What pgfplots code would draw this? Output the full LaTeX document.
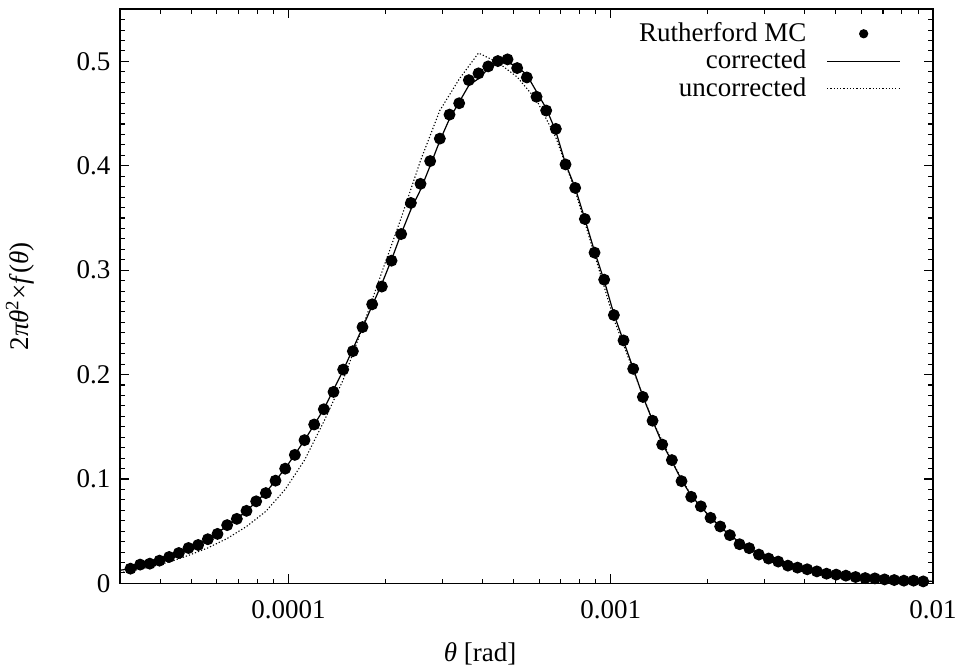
\documentclass[border=0pt]{standalone}
\usepackage{fontspec}
\setmainfont{Liberation Serif}
\usepackage{pgfplots}
\pgfplotsset{compat=1.18}
\pgfplotsset{
  dotleg/.style={legend image code/.code={\draw[##1, mark size=1.5pt] plot coordinates {(13.5pt,0pt)};}},
  lineleg/.style={legend image code/.code={\draw[##1] (0pt,0pt) -- (27pt,0pt);}},
}
\begin{document}
\begin{tikzpicture}
\begin{axis}[name=ax, scale only axis, width=301pt, height=212.6pt,
  xmode=log, xmin=3e-5, xmax=1e-2, ymin=0, ymax=0.55,
  xtick={1e-4,1e-3,1e-2}, xticklabels={0.0001,0.001,0.01},
  minor xtick={4e-5,5e-5,6e-5,7e-5,8e-5,9e-5,2e-4,3e-4,4e-4,5e-4,6e-4,7e-4,8e-4,9e-4,2e-3,3e-3,4e-3,5e-3,6e-3,7e-3,8e-3,9e-3},
  ytick={0,0.1,0.2,0.3,0.4,0.5}, yticklabels={0,0.1,0.2,0.3,0.4,0.5},
  minor ytick={0.01,0.02,0.03,0.04,0.05,0.06,0.07,0.08,0.09,0.11,0.12,0.13,0.14,0.15,0.16,0.17,0.18,0.19,0.21,0.22,0.23,0.24,0.25,0.26,0.27,0.28,0.29,0.31,0.32,0.33,0.34,0.35,0.36,0.37,0.38,0.39,0.41,0.42,0.43,0.44,0.45,0.46,0.47,0.48,0.49,0.51,0.52,0.53,0.54},
  tick align=inside, major tick length=3.3pt, minor tick length=1.8pt,
  tick style={black, line width=0.4pt},
  axis line style={line width=0.65pt},
  /pgf/number format/assume math mode=true,
  xticklabel style={anchor=center, yshift=-9.6pt},
  xlabel={\textit{θ} [rad]},
  ylabel={2\textit{πθ}\textsuperscript{2}×\textit{f}(\textit{θ})},
  xlabel style={at={(axis description cs:0.443,-0.123)}, anchor=center},
  ylabel style={at={(axis description cs:-0.123,0.5)}, anchor=center},
  legend cell align=right, legend plot pos=right,
  legend style={draw=none, fill=none, at={(axis description cs:0.9711,0.997)}, anchor=north east, row sep=-2.25pt, column sep=5.5pt},
]
\addplot[only marks, mark=*, mark size=2pt, black, dotleg] table {
x y
3.2359e-5 0.0141
3.4674e-5 0.0180
3.7154e-5 0.0189
3.9811e-5 0.0218
4.2658e-5 0.0253
4.5709e-5 0.0291
4.8978e-5 0.0339
5.2481e-5 0.0368
5.6234e-5 0.0423
6.0256e-5 0.0474
6.4565e-5 0.0558
6.9183e-5 0.0618
7.4131e-5 0.0695
7.9433e-5 0.0786
8.5114e-5 0.0865
9.1201e-5 0.0984
9.7724e-5 0.1099
1.0471e-4 0.1231
1.1220e-4 0.1372
1.2023e-4 0.1522
1.2883e-4 0.1668
1.3804e-4 0.1834
1.4791e-4 0.2048
1.5849e-4 0.2224
1.6982e-4 0.2455
1.8197e-4 0.2673
1.9498e-4 0.2843
2.0893e-4 0.3091
2.2387e-4 0.3346
2.3988e-4 0.3644
2.5704e-4 0.3827
2.7542e-4 0.4045
2.9512e-4 0.4260
3.1623e-4 0.4490
3.3884e-4 0.4599
3.6308e-4 0.4820
3.8905e-4 0.4885
4.1687e-4 0.4952
4.4668e-4 0.5003
4.7863e-4 0.5019
5.1286e-4 0.4936
5.4954e-4 0.4846
5.8884e-4 0.4661
6.3096e-4 0.4529
6.7608e-4 0.4353
7.2444e-4 0.4013
7.7625e-4 0.3788
8.3176e-4 0.3490
8.9125e-4 0.3168
9.5499e-4 0.2909
1.0233e-3 0.2570
1.0965e-3 0.2327
1.1749e-3 0.2055
1.2589e-3 0.1786
1.3490e-3 0.1558
1.4454e-3 0.1330
1.5488e-3 0.1181
1.6596e-3 0.0979
1.7783e-3 0.0829
1.9055e-3 0.0738
2.0417e-3 0.0628
2.1878e-3 0.0545
2.3442e-3 0.0462
2.5119e-3 0.0375
2.6915e-3 0.0337
2.8840e-3 0.0276
3.0903e-3 0.0238
3.3113e-3 0.0209
3.5481e-3 0.0170
3.8019e-3 0.0151
4.0738e-3 0.0135
4.3652e-3 0.0115
4.6774e-3 0.0093
5.0119e-3 0.0084
5.3703e-3 0.0074
5.7544e-3 0.0061
6.1660e-3 0.0051
6.6069e-3 0.0048
7.0795e-3 0.0038
7.5858e-3 0.0032
8.1283e-3 0.0026
8.7096e-3 0.0026
9.3325e-3 0.0019
};
\addlegendentry{Rutherford MC}
\addplot[black, line width=0.45pt, no marks, lineleg] table {
x y
3.0e-5 0.0125
3.2359e-5 0.0143
3.7154e-5 0.0188
4.2658e-5 0.0250
4.8978e-5 0.0330
5.6234e-5 0.0422
6.4565e-5 0.0550
7.4131e-5 0.0692
8.5114e-5 0.0870
9.7724e-5 0.1100
1.1220e-4 0.1370
1.2883e-4 0.1670
1.4791e-4 0.2040
1.6982e-4 0.2450
1.9498e-4 0.2870
2.0893e-4 0.3100
2.2387e-4 0.3350
2.3988e-4 0.3580
2.5704e-4 0.3770
2.7542e-4 0.4000
2.9512e-4 0.4240
3.1623e-4 0.4450
3.3884e-4 0.4610
3.6308e-4 0.4770
3.8905e-4 0.4835
4.1687e-4 0.4930
4.4668e-4 0.4990
4.7863e-4 0.4990
5.1286e-4 0.4950
5.4954e-4 0.4870
5.8884e-4 0.4710
6.3096e-4 0.4550
6.7608e-4 0.4330
7.2444e-4 0.4020
7.7625e-4 0.3790
8.3176e-4 0.3490
8.9125e-4 0.3180
9.5499e-4 0.2900
1.0233e-3 0.2580
1.0965e-3 0.2320
1.1749e-3 0.2060
1.2589e-3 0.1790
1.3490e-3 0.1560
1.4454e-3 0.1340
1.5488e-3 0.1170
1.6596e-3 0.0990
1.7783e-3 0.0840
2.0417e-3 0.0630
2.3442e-3 0.0460
2.6915e-3 0.0335
3.0903e-3 0.0240
3.5481e-3 0.0175
4.0738e-3 0.0131
4.6774e-3 0.0096
5.3703e-3 0.0073
6.1660e-3 0.0055
7.0795e-3 0.0041
8.1283e-3 0.0030
9.3325e-3 0.0022
1.0e-2 0.0019
};
\addlegendentry{corrected}
\addplot[black, line width=0.4pt, dash pattern=on 0.45pt off 0.75pt, no marks, lineleg] table {
x y
3.0e-5 0.0103
3.2359e-5 0.0118
3.7154e-5 0.0155
4.2658e-5 0.0205
4.8978e-5 0.0268
5.6234e-5 0.0340
6.4565e-5 0.0430
7.4131e-5 0.0545
8.5114e-5 0.0690
9.7724e-5 0.0900
1.1220e-4 0.1180
1.2883e-4 0.1550
1.4791e-4 0.1950
1.6982e-4 0.2450
1.9498e-4 0.2980
2.2387e-4 0.3500
2.5704e-4 0.4050
2.9512e-4 0.4530
3.3884e-4 0.4830
3.8905e-4 0.5080
4.4668e-4 0.4990
5.1286e-4 0.4850
5.8884e-4 0.4630
6.7608e-4 0.4270
7.7625e-4 0.3760
8.9125e-4 0.3150
1.0233e-3 0.2530
1.1749e-3 0.2040
1.3490e-3 0.1560
1.5488e-3 0.1170
1.7783e-3 0.0840
2.0417e-3 0.0630
2.3442e-3 0.0460
2.6915e-3 0.0335
3.0903e-3 0.0240
3.5481e-3 0.0175
4.0738e-3 0.0131
4.6774e-3 0.0096
5.3703e-3 0.0073
6.1660e-3 0.0055
7.0795e-3 0.0041
8.1283e-3 0.0030
9.3325e-3 0.0022
1.0e-2 0.0019
};
\addlegendentry{uncorrected}
\end{axis}
\pgfresetboundingbox
\path[use as bounding box] ([shift={(-44.4pt,-31pt)}]ax.south west) rectangle ([shift={(10.4pt,3.4pt)}]ax.north east);
\end{tikzpicture}
\end{document}
